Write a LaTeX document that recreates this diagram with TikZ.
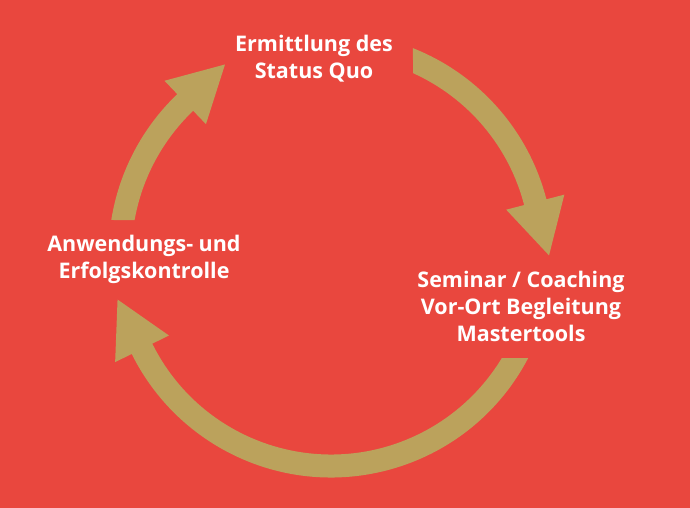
\documentclass[tikz,border=0pt]{standalone}
\usepackage{fontspec}
\setmainfont{Open Sans}
\usetikzlibrary{calc}
\definecolor{bgred}{RGB}{233,71,62}
\definecolor{arrowgold}{RGB}{187,162,92}
\newcommand\cycarrow[3]{%
  \fill[arrowgold] ($(C)+(#1:222.5)$) arc[start angle=#1,end angle=#3,radius=222.5]
    -- ($(C)+(#3:241)$) -- ($(C)+(#3:211)+({#3-90}:55)$) -- ($(C)+(#3:181)$)
    -- ($(C)+(#3:199.5)$) arc[start angle=#3,end angle=#2,radius=199.5] -- cycle;}
\begin{document}
\begin{tikzpicture}[x=1pt,y=1pt,
  label/.style={text=white,align=center,inner sep=0pt,anchor=north,
    font=\bfseries\fontsize{21.5}{27}\selectfont}]
  \useasboundingbox (0,0) rectangle (690,508);
  \fill[bgred] (0,0) rectangle (690,508);
  \coordinate (C) at (331,253);
  \cycarrow{68.4}{65.7}{14.5}
  \cycarrow{-27.6}{-31.1}{-153.6}
  \cycarrow{170.95}{169.9}{133.7}
  \node[label] (status) at (314,473) {Ermittlung des\\Status Quo};
  \node[label] (seminar) at (521,237) {Seminar / Coaching\\Vor-Ort Begleitung\\Mastertools};
  \node[label] (kontrolle) at (144,273) {Anwendungs- und\\Erfolgskontrolle};
\end{tikzpicture}
\end{document}
